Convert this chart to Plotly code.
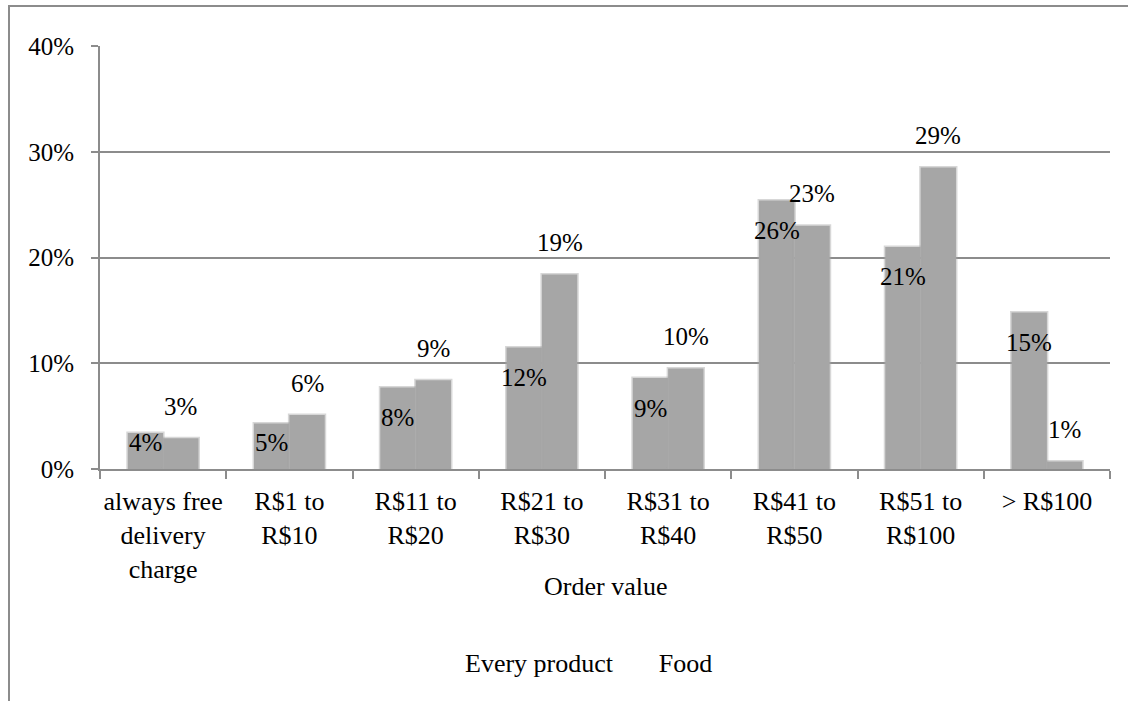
import plotly.graph_objects as go

categories = ["always free<br>delivery<br>charge", "R$1 to<br>R$10", "R$11 to<br>R$20",
              "R$21 to<br>R$30", "R$31 to<br>R$40", "R$41 to<br>R$50",
              "R$51 to<br>R$100", "> R$100"]
every_product = [3.4, 4.3, 7.7, 11.5, 8.6, 25.4, 21.0, 14.8]
food = [2.9, 5.1, 8.4, 18.4, 9.5, 23.0, 28.5, 0.7]
every_labels = ["4%", "5%", "8%", "12%", "9%", "26%", "21%", "15%"]
food_labels = ["3%", "6%", "9%", "19%", "10%", "23%", "29%", "1%"]
y_ticks = [0, 10, 20, 30, 40]
y_tick_labels = ["0%", "10%", "20%", "30%", "40%"]

W, H = 1128, 701
ML, MR, MT, MB = 100, 18, 46, 232
PW, PH = W - ML - MR, H - MT - MB
YMAX = 40
BARGAP = 0.44
FONT = "Liberation Serif, Times New Roman, serif"
GRAY = "#8c8c8c"
BAR = "#a6a6a6"

def px_x(px):
    return (px - ML) / PW

def px_y(py):
    return (H - MB - py) / PH

fig = go.Figure()
for name, vals in [("Every product", every_product), ("Food", food)]:
    fig.add_trace(go.Bar(
        x=categories, y=vals, name=name, showlegend=False,
        marker=dict(color=BAR, line=dict(color="rgba(166,166,166,0.45)", width=3)),
        hoverinfo="skip",
    ))
# legend entries without visible symbols (as in the reference)
for name in ["Every product", "Food"]:
    fig.add_trace(go.Scatter(x=[None], y=[None], mode="markers", name=name,
                             marker=dict(color="rgba(0,0,0,0)", size=1)))

half = (1 - BARGAP) / 4
ppu = PH / YMAX  # pixels per percent
annotations = []
for i in range(len(categories)):
    ys = -30
    if every_product[i] * ppu - 30 < 27:
        ys = 27 - every_product[i] * ppu
    annotations.append(dict(x=i - half, y=every_product[i], xref="x", yref="y",
                            text=every_labels[i], showarrow=False, yshift=ys,
                            yanchor="middle", font=dict(family=FONT, size=25, color="black")))
    annotations.append(dict(x=i + half, y=food[i], xref="x", yref="y",
                            text=food_labels[i], showarrow=False, yshift=32,
                            yanchor="middle", font=dict(family=FONT, size=25, color="black")))

annotations.append(dict(x=0.5, y=px_y(586), xref="paper", yref="paper", text="Order value",
                        showarrow=False, yanchor="middle", xanchor="center",
                        font=dict(family=FONT, size=26, color="black")))

fig.update_layout(
    width=W, height=H,
    margin=dict(l=ML, r=MR, t=MT, b=MB),
    paper_bgcolor="white", plot_bgcolor="white",
    barmode="group", bargap=BARGAP, bargroupgap=0,
    font=dict(family=FONT, size=26, color="black"),
    annotations=annotations,
    legend=dict(orientation="h", x=px_x(425), xanchor="left", y=px_y(662), yanchor="middle",
                font=dict(family=FONT, size=26, color="black"), bgcolor="rgba(0,0,0,0)",
                itemwidth=30),
    shapes=[dict(type="rect", xref="paper", yref="paper",
                 x0=px_x(9), x1=px_x(1140), y0=px_y(720), y1=px_y(6),
                 line=dict(color=GRAY, width=2), layer="below")],
)
fig.update_xaxes(
    type="category", tickson="boundaries", ticks="outside", ticklen=8, tickwidth=2,
    tickcolor=GRAY, showline=True, linecolor=GRAY, linewidth=2, showgrid=False,
    tickfont=dict(family=FONT, size=26, color="black"), ticklabelstandoff=8,
    tickangle=0, fixedrange=True,
)
fig.update_yaxes(
    range=[0, YMAX], tickvals=y_ticks, ticktext=y_tick_labels, ticks="outside", ticklen=7,
    tickwidth=2, tickcolor=GRAY, showline=True, linecolor=GRAY, linewidth=2,
    showgrid=True, gridcolor=GRAY, gridwidth=2, zeroline=False,
    tickfont=dict(family=FONT, size=25, color="black"), ticklabelstandoff=12,
    fixedrange=True,
)

fig.write_html("out.html", config={"displayModeBar": False})
